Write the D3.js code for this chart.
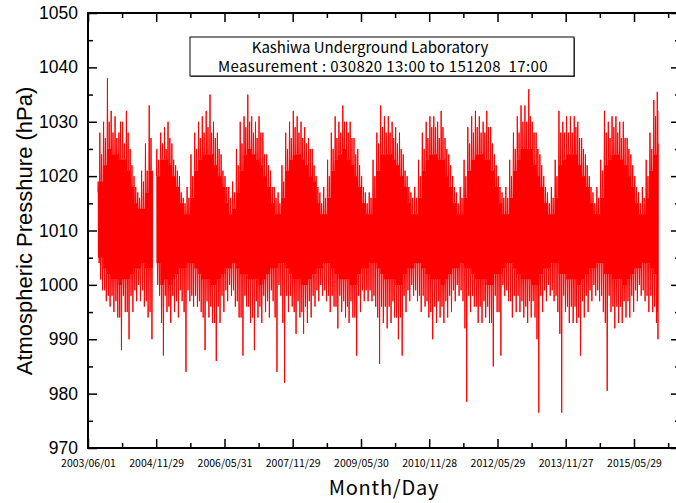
<!DOCTYPE html>
<html lang="en">
<head>
<meta charset="UTF-8">
<title>Kashiwa Underground Laboratory - Atmospheric Pressure</title>
<script src="https://cdn.jsdelivr.net/npm/d3@7"></script>
<style>
  body { margin: 0; background: #fff; }
</style>
</head>
<body>
<div id="container"></div>
<script>
// values, one entry per calendar month starting 2003/08
const firstMonth = "2003-08";
const measureStart = "2003-08-20T13:00Z";
const measureEnd = "2015-12-08T17:00Z";

// monthly highest reading (hPa), null = no data
const peakHigh = [
  1019, 1028, 1030, 1038, 1032,                                           // 2003 Aug-Dec
  1031, 1028, 1030, 1032, 1025, 1020, 1017, 1021, 1026, 1033, null, 1025, // 2004
  1028, 1029, 1030, 1026, 1022, 1020, 1016, 1018, 1024, 1028, 1030, 1031, // 2005
  1032, 1035, 1030, 1028, 1024, 1020, 1018, 1019, 1025, 1030, 1031, 1035, // 2006
  1031, 1030, 1031, 1028, 1024, 1021, 1018, 1017, 1022, 1028, 1030, 1032, // 2007
  1031, 1030, 1029, 1027, 1025, 1020, 1017, 1018, 1023, 1028, 1031, 1030, // 2008
  1033, 1030, 1030, 1027, 1025, 1020, 1017, 1017, 1023, 1028, 1033, 1031, // 2009
  1031, 1030, 1029, 1028, 1024, 1020, 1017, 1018, 1023, 1028, 1030, 1031, // 2010
  1031, 1030, 1032, 1027, 1024, 1020, 1017, 1018, 1023, 1029, 1031, 1032, // 2011
  1031, 1030, 1032, 1029, 1024, 1020, 1017, 1018, 1023, 1028, 1031, 1033, // 2012
  1033, 1036, 1030, 1028, 1024, 1020, 1017, 1018, 1023, 1032, 1030, 1031, // 2013
  1031, 1031, 1030, 1027, 1024, 1020, 1017, 1018, 1023, 1032, 1030, 1031, // 2014
  1031, 1030, 1030, 1027, 1024, 1020, 1017, 1018, 1023, 1028, 1034, 1035.5 // 2015
];

// monthly lowest reading (hPa)
const peakLow = [
  1004, 999, 997, 996, 995,
  994, 988, 995, 990, 995, 997, 997, 996, 994, 990, null, 998,
  987, 995, 993, 995, 994, 997, 984, 997, 996, 996, 995, 988,
  994, 993, 986, 993, 995, 997, 998, 996, 994, 987, 996, 993,
  988, 994, 993, 995, 994, 997, 984, 998, 982, 995, 996, 991,
  994, 991, 993, 994, 996, 997, 998, 997, 995, 996, 992, 995,
  994, 993, 994, 987, 995, 997, 997, 997, 996, 985.5, 993, 992,
  993, 994, 990, 987, 995, 997, 998, 997, 995, 996, 994, 990,
  993, 994, 993, 994, 995, 997, 998, 997, 978.5, 995, 996, 993,
  993, 994, 993, 985, 995, 987, 998, 997, 994, 995, 995, 994,
  993, 994, 994, 976.5, 995, 997, 998, 997, 995, 976.5, 995, 993,
  993, 993, 987, 994, 995, 997, 998, 997, 995, 980.5, 995, 992,
  993, 993, 994, 994, 995, 997, 998, 997, 995, 995, 993, 990
];

// second-highest burst of the month
const midHigh = [
  1018, 1024, 1027, 1030, 1028,
  1027, 1030, 1026, 1028, 1022, 1018, 1016, 1019, 1021, 1027, null, 1023,
  1026, 1025, 1027, 1023, 1021, 1017, 1015, 1016, 1020, 1025, 1027, 1028,
  1029, 1028, 1027, 1025, 1021, 1018, 1016, 1017, 1022, 1026, 1029, 1030,
  1028, 1027, 1028, 1024, 1022, 1018, 1016, 1015, 1019, 1025, 1027, 1029,
  1028, 1027, 1026, 1025, 1022, 1018, 1015, 1016, 1020, 1025, 1027, 1028,
  1030, 1028, 1027, 1024, 1022, 1018, 1015, 1016, 1020, 1026, 1029, 1028,
  1028, 1027, 1026, 1025, 1021, 1018, 1016, 1016, 1020, 1025, 1027, 1029,
  1029, 1027, 1029, 1025, 1022, 1018, 1015, 1016, 1020, 1026, 1028, 1029,
  1028, 1028, 1029, 1026, 1022, 1018, 1016, 1016, 1020, 1025, 1028, 1030,
  1030, 1031, 1028, 1025, 1022, 1018, 1015, 1016, 1020, 1028, 1028, 1028,
  1028, 1029, 1027, 1025, 1022, 1018, 1015, 1016, 1021, 1028, 1027, 1029,
  1028, 1027, 1027, 1025, 1022, 1018, 1015, 1016, 1020, 1025, 1031, 1032
];

// second-lowest dip of the month
const midLow = [
  1005, 1001, 999, 998, 998,
  997, 994, 998, 995, 998, 999, 1000, 999, 997, 995, null, 1000,
  993, 998, 996, 998, 997, 999, 995, 999, 998, 998, 997, 994,
  997, 996, 993, 996, 998, 999, 1000, 999, 997, 994, 998, 996,
  994, 997, 996, 998, 997, 999, 994, 1000, 993, 998, 998, 995,
  997, 995, 996, 997, 998, 999, 1000, 999, 998, 998, 996, 998,
  997, 996, 997, 994, 998, 999, 999, 999, 998, 994, 996, 996,
  996, 997, 994, 994, 998, 999, 1000, 999, 998, 998, 997, 995,
  996, 997, 996, 997, 998, 999, 1000, 999, 992, 998, 998, 996,
  996, 997, 996, 993, 998, 995, 1000, 999, 997, 998, 998, 997,
  996, 997, 997, 990, 998, 999, 1000, 999, 998, 991, 998, 996,
  996, 996, 994, 997, 998, 999, 1000, 999, 998, 993, 998, 996,
  996, 996, 997, 997, 998, 999, 1000, 999, 998, 998, 996, 995
];

// upper edge of the dense band
const bandHigh = [
  1017, 1019, 1022, 1025, 1024,
  1024, 1023, 1023, 1021, 1018, 1015, 1014, 1014, 1017, 1021, null, 1020,
  1023, 1023, 1022, 1020, 1018, 1015, 1013, 1013, 1016, 1021, 1023, 1024,
  1024, 1024, 1022, 1020, 1018, 1015, 1013, 1014, 1017, 1021, 1024, 1025,
  1024, 1023, 1022, 1020, 1018, 1015, 1013, 1013, 1016, 1021, 1023, 1024,
  1024, 1023, 1022, 1020, 1019, 1015, 1013, 1013, 1016, 1021, 1023, 1024,
  1025, 1023, 1022, 1020, 1018, 1015, 1013, 1013, 1016, 1021, 1024, 1024,
  1024, 1023, 1022, 1020, 1018, 1015, 1013, 1013, 1016, 1021, 1023, 1024,
  1024, 1023, 1023, 1020, 1018, 1015, 1013, 1013, 1016, 1021, 1023, 1024,
  1024, 1023, 1023, 1021, 1018, 1015, 1013, 1013, 1016, 1021, 1023, 1025,
  1025, 1025, 1022, 1020, 1018, 1015, 1013, 1013, 1016, 1022, 1023, 1024,
  1024, 1024, 1022, 1020, 1018, 1015, 1013, 1013, 1016, 1022, 1023, 1024,
  1024, 1023, 1022, 1020, 1018, 1015, 1013, 1013, 1016, 1021, 1024, 1026
];

// lower edge of the dense band
const bandLow = [
  1006, 1005, 1003, 1002, 1001,
  1001, 1000, 1001, 1001, 1002, 1003, 1003, 1004, 1003, 1003, null, 1004,
  1000, 1001, 1000, 1001, 1002, 1003, 1003, 1004, 1004, 1003, 1002, 1001,
  1001, 1000, 1000, 1001, 1002, 1003, 1003, 1004, 1003, 1002, 1002, 1001,
  1001, 1001, 1000, 1001, 1002, 1003, 1003, 1004, 1004, 1003, 1002, 1001,
  1001, 1000, 1000, 1001, 1002, 1003, 1003, 1004, 1004, 1003, 1002, 1001,
  1001, 1001, 1000, 1000, 1002, 1003, 1003, 1004, 1004, 1003, 1002, 1001,
  1001, 1001, 1000, 1000, 1002, 1003, 1003, 1004, 1004, 1003, 1002, 1001,
  1001, 1001, 1000, 1001, 1002, 1003, 1003, 1004, 1003, 1003, 1002, 1001,
  1001, 1001, 1000, 1000, 1002, 1002, 1003, 1004, 1004, 1003, 1002, 1001,
  1001, 1001, 1000, 1000, 1002, 1003, 1003, 1004, 1004, 1002, 1002, 1001,
  1001, 1001, 1000, 1001, 1002, 1003, 1003, 1004, 1004, 1002, 1002, 1001,
  1001, 1001, 1000, 1001, 1002, 1003, 1003, 1004, 1004, 1003, 1002, 1000
];

const xTickLabels = ["2003/06/01", "2004/11/29", "2006/05/31", "2007/11/29", "2009/05/30",
                     "2010/11/28", "2012/05/29", "2013/11/27", "2015/05/29"];
const yMajor = [970, 980, 990, 1000, 1010, 1020, 1030, 1040, 1050];
const yMinor = [975, 985, 995, 1005, 1015, 1025, 1035, 1045];

const titleLines = ["Kashiwa Underground Laboratory", "Measurement : 030820 13:00 to 151208\u00a0\u00a017:00"];

const W = 676, H = 503;
const frame = { left: 88, right: 680, top: 13, bottom: 448 };

const parseTick = d3.utcParse("%Y/%m/%d");
const tickDates = xTickLabels.map(parseTick);
const minorDates = tickDates.map((d, i) => {
  const next = tickDates[i + 1] || new Date(2 * d - tickDates[i - 1]);
  return new Date((+d + +next) / 2);
});

const x = d3.scaleUtc()
  .domain([tickDates[0], tickDates[tickDates.length - 1]])
  .range([88, 634]);
const y = d3.scaleLinear().domain([970, 1050]).range([frame.bottom, frame.top]);

// build the monthly records
const t0 = d3.utcParse("%Y-%m")(firstMonth);
const tStart = new Date(measureStart), tEnd = new Date(measureEnd);
const months = peakHigh.map((v, i) => ({
  start: d3.utcMonth.offset(t0, i),
  ok: v != null,
  hi: v, lo: peakLow[i], mh: midHigh[i], ml: midLow[i], bh: bandHigh[i], bl: bandLow[i]
}));

// time at a fraction of the month, squeezed into the measured span
function at(m, day) {
  const end = d3.utcMonth.offset(m.start, 1);
  const a = Math.max(+m.start, +tStart), b = Math.min(+end, +tEnd);
  return new Date(a + (day / 31) * (b - a));
}

// trace: each burst leaves the band and comes back to it
const steps = [
  ["bh", 0.5], ["hi", 3], ["bh", 5.5], ["bl", 7.5], ["ml", 10], ["bl", 12.5],
  ["bh", 15], ["mh", 17.5], ["bh", 20], ["bl", 22.5], ["lo", 25], ["bl", 27.5], ["bh", 30.5]
];
const trace = [];
months.forEach(m => steps.forEach(([k, day]) => trace.push({ t: at(m, day), v: m[k], ok: m.ok })));

const band = [];
months.forEach(m => {
  band.push({ t: at(m, 0), h: m.bh, l: m.bl, ok: m.ok });
  band.push({ t: at(m, 31), h: m.bh, l: m.bl, ok: m.ok });
});

const svg = d3.select("#container").append("svg")
  .attr("width", W).attr("height", H)
  .style("font-family", "'Liberation Sans', Arial, sans-serif");

const plot = svg.append("g");

plot.append("path")
  .datum(band)
  .attr("fill", "#ff0000")
  .attr("d", d3.area().defined(d => d.ok)
    .x(d => x(d.t)).y0(d => y(d.l)).y1(d => y(d.h)).curve(d3.curveMonotoneX));

plot.append("path")
  .datum(trace)
  .attr("fill", "none")
  .attr("stroke", "#ff0000")
  .attr("stroke-width", 1)
  .attr("d", d3.line().defined(d => d.ok).x(d => x(d.t)).y(d => y(d.v)));

// axes: ticks point inward
function clean(g) { g.select(".domain").remove(); g.selectAll(".tick line").attr("stroke", "#000").attr("stroke-width", 1.5); }

svg.append("g").attr("transform", `translate(${frame.left},0)`)
  .call(d3.axisLeft(y).tickValues(yMajor).tickSize(-9).tickPadding(10).tickFormat(d3.format("d")))
  .call(clean)
  .call(g => g.selectAll("text").attr("fill", "#000").style("font-size", "17.5px")
    .style("font-family", "'Liberation Sans', Arial, sans-serif"));
svg.append("g").attr("transform", `translate(${frame.left},0)`)
  .call(d3.axisLeft(y).tickValues(yMinor).tickSize(-5).tickFormat(""))
  .call(clean);
svg.append("g").attr("transform", `translate(${frame.right},0)`)
  .call(d3.axisRight(y).tickValues(yMajor).tickSize(-9).tickFormat(""))
  .call(clean);
svg.append("g").attr("transform", `translate(${frame.right},0)`)
  .call(d3.axisRight(y).tickValues(yMinor).tickSize(-5).tickFormat(""))
  .call(clean);

svg.append("g").attr("transform", `translate(0,${frame.bottom})`)
  .call(d3.axisBottom(x).tickValues(tickDates).tickSize(-9).tickPadding(12)
    .tickFormat((d, i) => xTickLabels[i]))
  .call(clean)
  .call(g => g.selectAll("text").attr("fill", "#000").style("font-size", "10.5px")
    .style("font-family", "'Noto Sans CJK JP', sans-serif"));
svg.append("g").attr("transform", `translate(0,${frame.bottom})`)
  .call(d3.axisBottom(x).tickValues(minorDates).tickSize(-5).tickFormat(""))
  .call(clean);
svg.append("g").attr("transform", `translate(0,${frame.top})`)
  .call(d3.axisTop(x).tickValues(tickDates).tickSize(-9).tickFormat(""))
  .call(clean);
svg.append("g").attr("transform", `translate(0,${frame.top})`)
  .call(d3.axisTop(x).tickValues(minorDates).tickSize(-5).tickFormat(""))
  .call(clean);

// frame
svg.append("rect")
  .attr("x", frame.left).attr("y", frame.top)
  .attr("width", frame.right - frame.left).attr("height", frame.bottom - frame.top)
  .attr("fill", "none").attr("stroke", "#000").attr("stroke-width", 2);

// axis titles
svg.append("text")
  .attr("transform", "translate(32,231) rotate(-90)")
  .attr("text-anchor", "middle")
  .style("font-size", "22px")
  .text("Atmospheric Presshure (hPa)");

svg.append("text")
  .attr("x", 384).attr("y", 495)
  .attr("text-anchor", "middle")
  .style("font-family", "'Noto Sans CJK JP', sans-serif")
  .style("font-size", "20px")
  .style("letter-spacing", "0.8px")
  .text("Month/Day");

// title box
const box = svg.append("g");
box.append("rect").attr("x", 191).attr("y", 38).attr("width", 384).attr("height", 39)
  .attr("fill", "#555");
box.append("rect").attr("x", 190).attr("y", 37).attr("width", 384).attr("height", 39)
  .attr("fill", "#fff").attr("stroke", "#000").attr("stroke-width", 1);
box.selectAll("text").data(titleLines).join("text")
  .attr("x", (d, i) => i ? 383 : 370)
  .attr("y", (d, i) => 53 + i * 19)
  .attr("text-anchor", "middle")
  .style("font-family", "'Noto Sans CJK JP', sans-serif")
  .style("font-size", "15px")
  .style("letter-spacing", (d, i) => i ? "0.4px" : null)
  .text(d => d);
</script>
</body>
</html>
